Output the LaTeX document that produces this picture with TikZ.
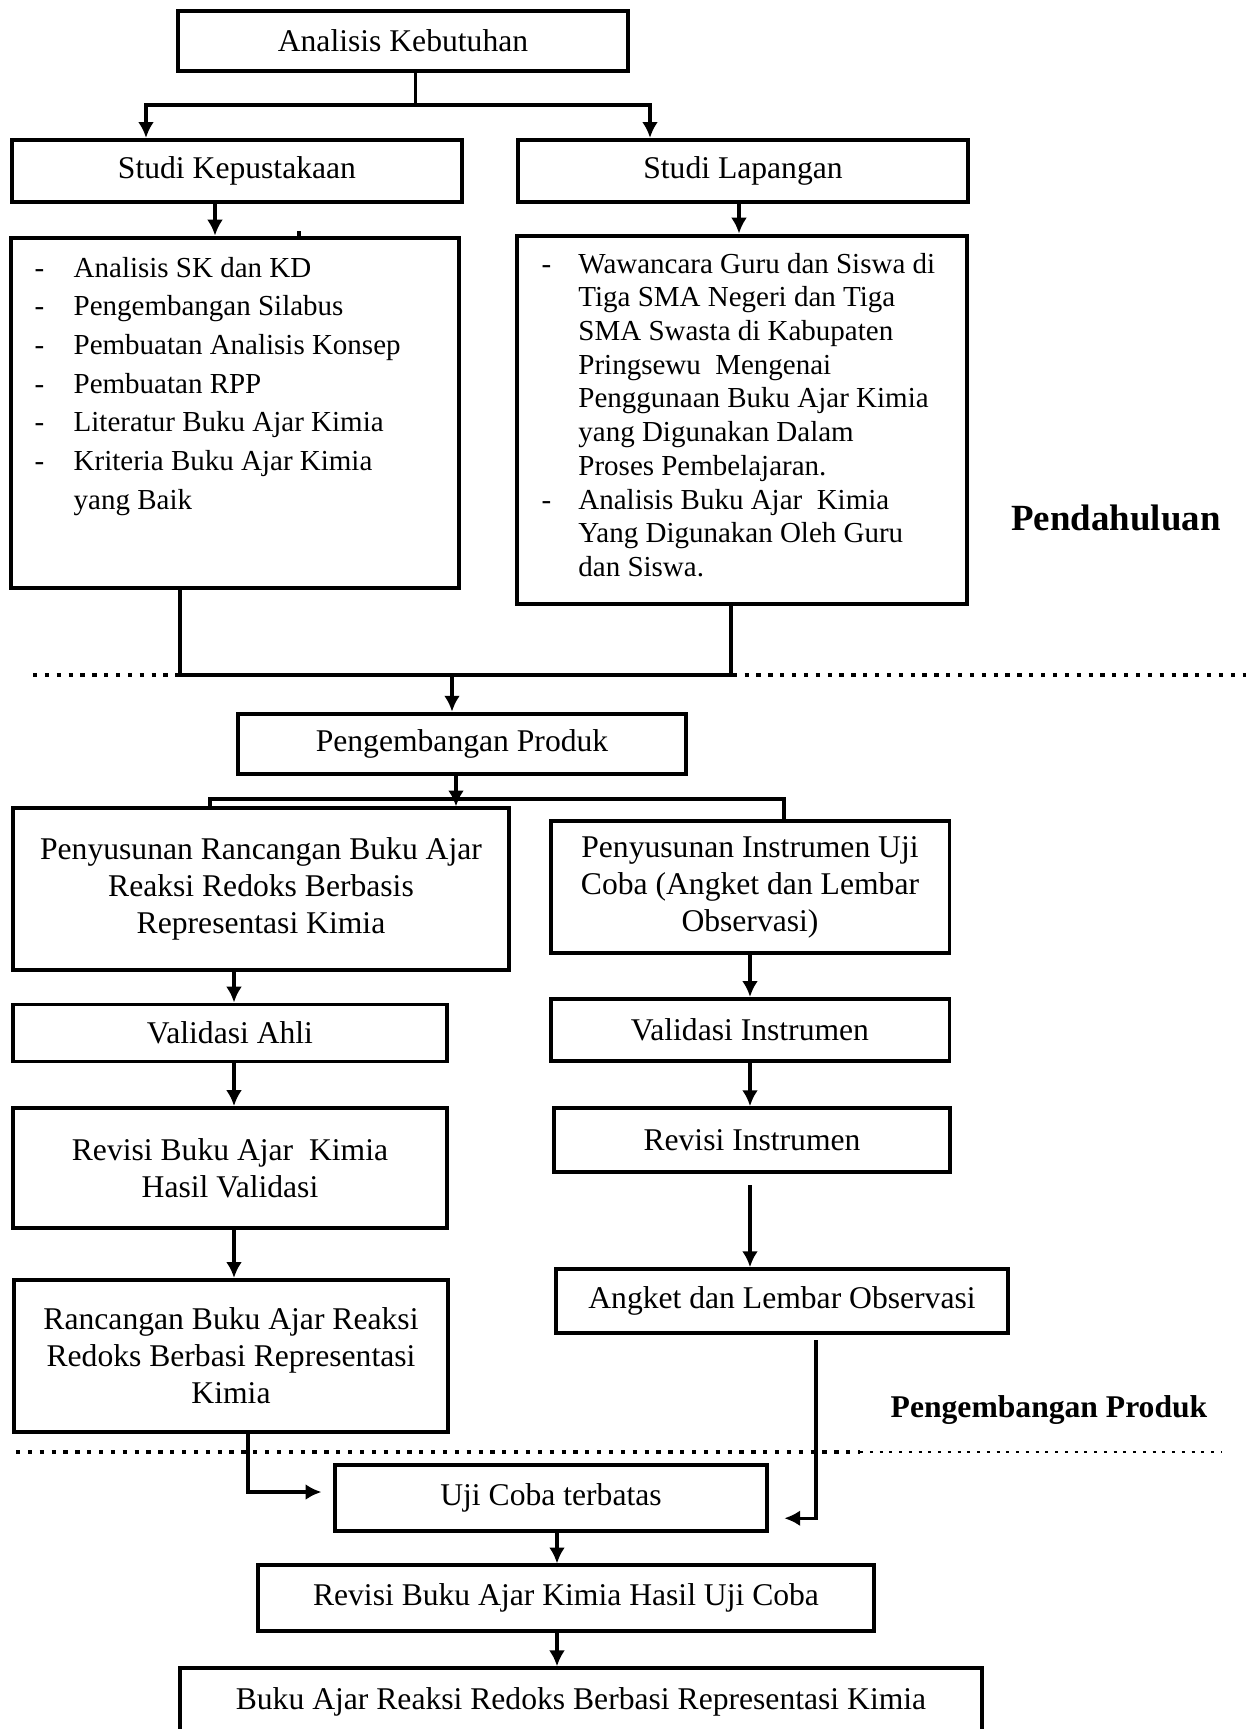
\documentclass[tikz,border=0pt]{standalone}
\usepackage{fontspec}
\setmainfont{Liberation Serif}
\usetikzlibrary{arrows.meta}

\begin{document}
\begin{tikzpicture}[x=0.013333cm,y=-0.013333cm,>={Latex[length=6pt,width=6pt]},line width=1.3pt,
        kotak/.style={draw,line width=1.5pt,align=center,inner sep=2pt,font=\fontsize{12}{14}\selectfont},
        daftar/.style={anchor=base west,inner sep=0pt,font=\fontsize{11}{#1}\selectfont},
        batas/.style={line width=1.6pt,dash pattern=on 1.6pt off 2.9pt},
        batastipis/.style={line width=0.7pt,dash pattern=on 1.2pt off 2.5pt}]
        \useasboundingbox (0,0) rectangle (1248,1729);

        \node[kotak,minimum width=5.99cm,minimum height=0.81cm] (anKeb) at (403,41) {Analisis Kebutuhan};
        \node[kotak,minimum width=5.99cm,minimum height=0.83cm] (studiKep) at (237,171) {Studi Kepustakaan};
        \node[kotak,minimum width=6cm,minimum height=0.83cm] (studiLap) at (743,171) {Studi Lapangan};
        \node[kotak,minimum width=5.97cm,minimum height=4.68cm] (kepBox) at (235,413) {};
        \node[kotak,minimum width=5.99cm,minimum height=4.92cm] (lapBox) at (742,420) {};

        \node[daftar=14.7] (kepList) at (33,277) {\begin{tabular}[t]{@{}p{0.52cm}@{}l@{}}
        - & Analisis SK dan KD\\
        - & Pengembangan Silabus\\
        - & Pembuatan Analisis Konsep\\
        - & Pembuatan RPP\\
        - & Literatur Buku Ajar Kimia\\
        - & Kriteria Buku Ajar Kimia\\
          & yang Baik
        \end{tabular}};
        \node[daftar=12.8] (lapList) at (540,273) {\begin{tabular}[t]{@{}p{0.49cm}@{}l@{}}
        - & Wawancara Guru dan Siswa di\\
          & Tiga SMA Negeri dan Tiga\\
          & SMA Swasta di Kabupaten\\
          & Pringsewu\ \ Mengenai\\
          & Penggunaan Buku Ajar Kimia\\
          & yang Digunakan Dalam\\
          & Proses Pembelajaran.\\
        - & Analisis Buku Ajar\ \ Kimia\\
          & Yang Digunakan Oleh Guru\\
          & dan Siswa.
        \end{tabular}};

        \node[font=\fontsize{14}{16}\selectfont\bfseries] (lblPendahuluan) at (1116,518) {Pendahuluan};

        \node[kotak,minimum width=5.97cm,minimum height=0.81cm] (pengProd) at (462,744) {Pengembangan Produk};
        \node[kotak,minimum width=6.61cm,minimum height=2.15cm] (rancangan) at (261,889) {Penyusunan Rancangan Buku Ajar\\Reaksi Redoks Berbasis\\Representasi Kimia};
        \node[kotak,minimum width=5.32cm,minimum height=1.77cm] (instrumen) at (750,887) {Penyusunan Instrumen Uji\\Coba (Angket dan Lembar\\Observasi)};
        \node[kotak,minimum width=5.79cm,minimum height=0.76cm] (valAhli) at (230,1033) {Validasi Ahli};
        \node[kotak,minimum width=5.32cm,minimum height=0.83cm] (valInstr) at (750,1030) {Validasi Instrumen};
        \node[kotak,minimum width=5.79cm,minimum height=1.6cm] (revBuku) at (230,1168) {Revisi Buku Ajar\ \ Kimia\\Hasil Validasi};
        \node[kotak,minimum width=5.27cm,minimum height=0.85cm] (revInstr) at (752,1140) {Revisi Instrumen};
        \node[kotak,minimum width=6.03cm,minimum height=0.85cm] (angket) at (782,1301) {Angket dan Lembar Observasi};
        \node[kotak,minimum width=5.79cm,minimum height=2.03cm] (rancBuku) at (231,1356) {Rancangan Buku Ajar Reaksi\\Redoks Berbasi Representasi\\Kimia};

        \node[font=\fontsize{12}{14}\selectfont\bfseries] (lblPengembangan) at (1049,1410) {Pengembangan Produk};

        \node[kotak,minimum width=5.77cm,minimum height=0.87cm] (ujiCoba) at (551,1498) {Uji Coba terbatas};
        \node[kotak,minimum width=8.21cm,minimum height=0.87cm] (revUji) at (566,1598) {Revisi Buku Ajar Kimia Hasil Uji Coba};
        \node[kotak,minimum width=10.69cm,minimum height=0.9cm] (final) at (581,1702) {Buku Ajar Reaksi Redoks Berbasi Representasi Kimia};

        \draw[batas] (33,675) -- (1246,675);
        \draw[batas] (16,1452) -- (860,1452);
        \draw[batastipis] (860,1452) -- (1222,1452);

        \coordinate (bagiA) at (146,105);
        \coordinate (bagiB) at (650,105);
        \coordinate (kA) at (215,0);
        \coordinate (lA) at (739,0);
        \coordinate (tA) at (299,0);
        \coordinate (gA) at (180,675);
        \coordinate (gB) at (731,675);
        \coordinate (pA) at (452,675);
        \coordinate (tengah) at (456,0);
        \coordinate (cA) at (210,799);
        \coordinate (cB) at (784,799);
        \coordinate (kiri) at (234,0);
        \coordinate (kanan) at (750,0);
        \coordinate (bA) at (248,0);
        \coordinate (aA) at (816,0);
        \coordinate (uA) at (557,0);

        \draw ([xshift=0.17cm]anKeb.south) -- ([xshift=0.17cm]anKeb.south |- bagiA);
        \draw[<->,line width=1.5pt] (bagiA |- studiKep.north) -- (bagiA) -- (bagiB) -- (bagiB |- studiLap.north);
        \draw[->] (studiKep.south -| kA) -- (kepBox.north -| kA);
        \draw[->] (studiLap.south -| lA) -- (lapBox.north -| lA);
        \draw (kepBox.north -| tA) -- ++(0,-5);
        \draw[line width=1.5pt] (kepBox.south -| gA) -- (gA) -- (gB) -- (lapBox.south -| gB);
        \draw[->] (pA) -- (pengProd.north -| pA);

        \draw[line width=1.5pt] (rancangan.north -| cA) -- (cA) -- (cB) -- (instrumen.north -| cB);
        \draw[->] (pengProd.south -| tengah) -- (rancangan.north -| tengah);
        \draw[->] (rancangan.south -| kiri) -- (valAhli.north -| kiri);
        \draw[->] (valAhli.south -| kiri) -- (revBuku.north -| kiri);
        \draw[->] (revBuku.south -| kiri) -- (rancBuku.north -| kiri);
        \draw[->] (instrumen.south -| kanan) -- (valInstr.north -| kanan);
        \draw[->] (valInstr.south -| kanan) -- (revInstr.north -| kanan);
        \draw[->,shorten <=0.15cm] (revInstr.south -| kanan) -- (angket.north -| kanan);

        \draw[->,shorten >=0.15cm] (rancBuku.south -| bA) |- ([yshift=0.08cm]ujiCoba.west);
        \draw[->,shorten <=0.07cm,shorten >=0.2cm] (angket.south -| aA) |- ([yshift=-0.27cm]ujiCoba.east);
        \draw[->] (ujiCoba.south -| uA) -- (revUji.north -| uA);
        \draw[->] (revUji.south -| uA) -- (final.north -| uA);

    \end{tikzpicture}
\end{document}
